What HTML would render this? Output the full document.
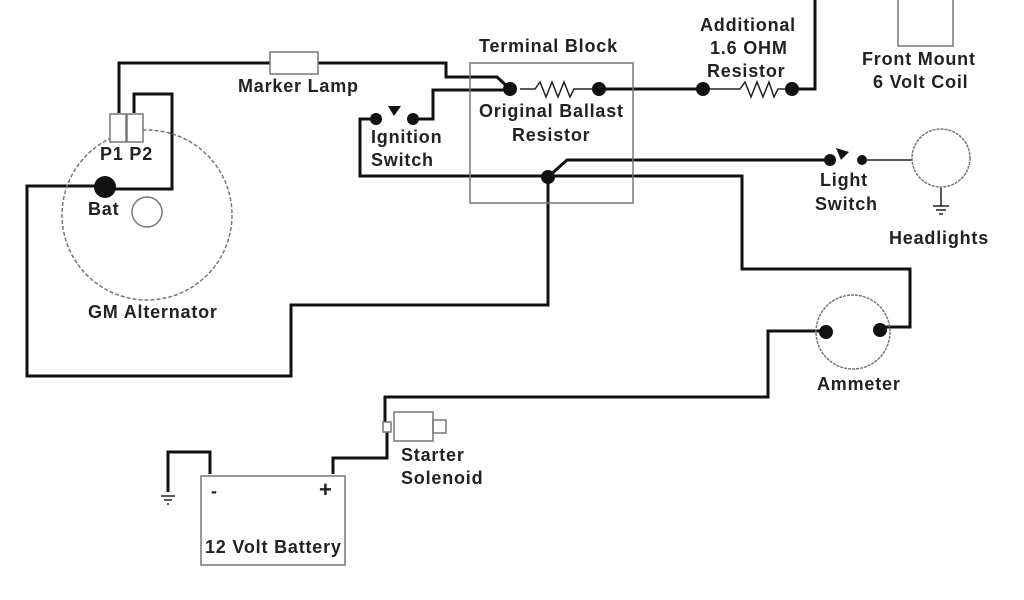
<!DOCTYPE html><html><head><style>body{margin:0;background:#fff}svg{display:block}text{font-family:"Liberation Sans",sans-serif;font-weight:bold;font-size:18px;letter-spacing:0.8px;fill:#222}</style></head><body>
<svg width="1024" height="600" viewBox="0 0 1024 600">
<g fill="none" stroke="#111" stroke-width="3">
<polyline points="119,113 119,63 270,63"/>
<polyline points="318,63 446,63 446,77 497,77 510,89"/>
<polyline points="134,113 134,94 172,94 172,189 105,189"/>
<polyline points="105,186 27,186 27,376 291,376 291,305 548,305 548,177"/>
<polyline points="510,90 433,90 433,119 413,119"/>
<polyline points="376,119 360,119 360,176 742,176 742,269 910,269 910,327 880,327"/>
<polyline points="548,177 567,160 830,160"/>
<polyline points="826,331 768,331 768,397 385,397 385,425"/>
<polyline points="387,430 387,458 333,458 333,474"/>
<polyline points="210,474 210,452 168,452 168,492"/>
<polyline points="599,89 703,89"/>
<polyline points="792,89 815,89 815,0"/>
</g>
<g fill="none" stroke="#222" stroke-width="1.5">
<polyline points="520,89 535,89 540,82 546,97 552,82 558,97 564,82 570,97 574,89 599,89"/>
<polyline points="703,89 740,89 745,82 751,97 757,82 763,97 769,82 774,97 778,89 792,89"/>
<line x1="862" y1="160" x2="912" y2="160"/>
<line x1="941" y1="188" x2="941" y2="206"/>
<line x1="933" y1="206" x2="949" y2="206"/><line x1="936" y1="210" x2="946" y2="210"/><line x1="939" y1="214" x2="943" y2="214"/>
<line x1="161" y1="496" x2="175" y2="496"/><line x1="164" y1="500" x2="172" y2="500"/><line x1="167" y1="504" x2="169" y2="504"/>
</g>
<g fill="none" stroke="#777" stroke-width="1.5">
<rect x="470" y="63" width="163" height="140"/>
<rect x="270" y="52" width="48" height="22" fill="#fff"/>
<rect x="898" y="-2" width="55" height="48"/>
<circle cx="147" cy="215" r="85" stroke-dasharray="4,2"/>
<circle cx="147" cy="212" r="15"/>
<rect x="110" y="114" width="16" height="28" fill="#fff"/><rect x="127" y="114" width="16" height="28" fill="#fff"/>
<circle cx="941" cy="158" r="29" stroke-dasharray="3,1"/>
<circle cx="853" cy="332" r="37" stroke-dasharray="3,1"/>
<rect x="394" y="412" width="39" height="29" fill="#fff"/>
<rect x="433" y="420" width="13" height="13"/>
<rect x="383" y="422" width="8" height="10" fill="#fff"/>
<rect x="201" y="476" width="144" height="89"/>
</g>
<g fill="#111">
<circle cx="105" cy="187" r="11"/>
<circle cx="510" cy="89" r="7"/><circle cx="599" cy="89" r="7"/>
<circle cx="703" cy="89" r="7"/><circle cx="792" cy="89" r="7"/>
<circle cx="376" cy="119" r="6"/><circle cx="413" cy="119" r="6"/>
<polygon points="388,106 401,106 394,116"/>
<circle cx="548" cy="177" r="7"/>
<circle cx="830" cy="160" r="6"/><circle cx="862" cy="160" r="5"/>
<polygon points="836,148 849,152 841,160"/>
<circle cx="826" cy="332" r="7"/><circle cx="880" cy="330" r="7"/>
</g>
<text x="238" y="92">Marker Lamp</text>
<text x="100" y="160">P1 P2</text>
<text x="88" y="215">Bat</text>
<text x="88" y="318">GM Alternator</text>
<text x="371" y="143">Ignition</text>
<text x="371" y="166">Switch</text>
<text x="479" y="52">Terminal Block</text>
<text x="479" y="117">Original Ballast</text>
<text x="512" y="141">Resistor</text>
<text x="700" y="31">Additional</text>
<text x="710" y="54">1.6 OHM</text>
<text x="707" y="77">Resistor</text>
<text x="862" y="65">Front Mount</text>
<text x="873" y="88">6 Volt Coil</text>
<text x="820" y="186">Light</text>
<text x="815" y="210">Switch</text>
<text x="889" y="244">Headlights</text>
<text x="817" y="390">Ammeter</text>
<text x="401" y="461">Starter</text>
<text x="401" y="484">Solenoid</text>
<text x="211" y="497">-</text>
<text x="319" y="497" style="font-size:22px">+</text>
<text x="205" y="553">12 Volt Battery</text>
</svg></body></html>
